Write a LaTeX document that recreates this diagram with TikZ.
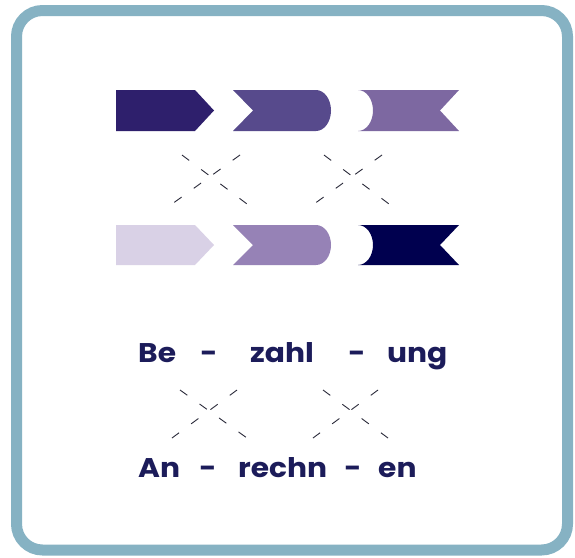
\documentclass[tikz,border=0pt]{standalone}
\usepackage{fontspec}
\newfontfamily\sylfont{Poppins}[FakeStretch=1.1]
\definecolor{frameblue}{HTML}{86B2C3}
\definecolor{pA}{HTML}{2E1F6C}
\definecolor{pB}{HTML}{574A8C}
\definecolor{pC}{HTML}{7D68A1}
\definecolor{pD}{HTML}{D9D1E6}
\definecolor{pE}{HTML}{9682B6}
\definecolor{pF}{HTML}{00004F}
\definecolor{txtnavy}{HTML}{1C1C5A}
\definecolor{dashgray}{HTML}{2A2A3A}
\begin{document}
\begin{tikzpicture}[x=1pt,y=-1pt,
  syl/.style={anchor=base west,inner sep=0pt,text=txtnavy,font=\sylfont\bfseries\fontsize{27}{30}\selectfont},
  hyph/.style={anchor=base,inner sep=0pt,text=txtnavy,font=\sylfont\bfseries\fontsize{27}{30}\selectfont},
  crossline/.style={draw=dashgray,line width=0.9pt,dash pattern=on 9pt off 15pt}]
\useasboundingbox (0,0) rectangle (575,557);
% frame
\draw[frameblue,line width=11pt,fill=white,rounded corners=26pt] (16.5,10.5) rectangle (567.5,550);
% row 1 shapes
\fill[pA] (116,90) -- (195,90) -- (214,110.5) -- (195,131) -- (116,131) -- cycle;
\fill[pB] (233,90) -- (316,90) arc[start angle=-90,end angle=90,x radius=15,y radius=20.5] -- (233,131) -- (253,110.5) -- cycle;
\fill[pC] (358,90) -- (459,90) -- (440,110.5) -- (459,131) -- (358,131) arc[start angle=90,end angle=-90,x radius=15,y radius=20.5] -- cycle;
% row 2 shapes
\fill[pD] (116,225) -- (195,225) -- (214,245) -- (195,265) -- (116,265) -- cycle;
\fill[pE] (233,225) -- (316,225) arc[start angle=-90,end angle=90,x radius=15,y radius=20] -- (233,265) -- (253,245) -- cycle;
\fill[pF] (358,225) -- (459,225) -- (440,245) -- (459,265) -- (358,265) arc[start angle=90,end angle=-90,x radius=15,y radius=20] -- cycle;
% syllables
\node[syl] (be) at (138,362) {Be};
\node[hyph] (h1) at (209,362) {-};
\node[syl] (zahl) at (250,362) {zahl};
\node[hyph] (h2) at (357,362) {-};
\node[syl] (ung) at (387,362) {ung};
\node[syl] (an) at (138,477) {An};
\node[hyph] (h3) at (208,477) {-};
\node[syl] (rechn) at (238,477) {rechn};
\node[hyph] (h4) at (353,477) {-};
\node[syl] (en) at (378,477) {en};
% cross end points
\coordinate (a1) at (182,155); \coordinate (a2) at (247,204);
\coordinate (b1) at (240,155); \coordinate (b2) at (172,204);
\coordinate (c1) at (324,155); \coordinate (c2) at (389,204);
\coordinate (d1) at (382,155); \coordinate (d2) at (314,204);
\coordinate (e1) at (180,390); \coordinate (e2) at (247,438);
\coordinate (f1) at (237,390); \coordinate (f2) at (172,438);
\coordinate (g1) at (323,390); \coordinate (g2) at (388,438);
\coordinate (k1) at (378,390); \coordinate (k2) at (313,438);
\draw[crossline] (a1) -- (a2);
\draw[crossline] (b1) -- (b2);
\draw[crossline] (c1) -- (c2);
\draw[crossline] (d1) -- (d2);
\draw[crossline] (e1) -- (e2);
\draw[crossline] (f1) -- (f2);
\draw[crossline] (g1) -- (g2);
\draw[crossline] (k1) -- (k2);
\end{tikzpicture}
\end{document}
